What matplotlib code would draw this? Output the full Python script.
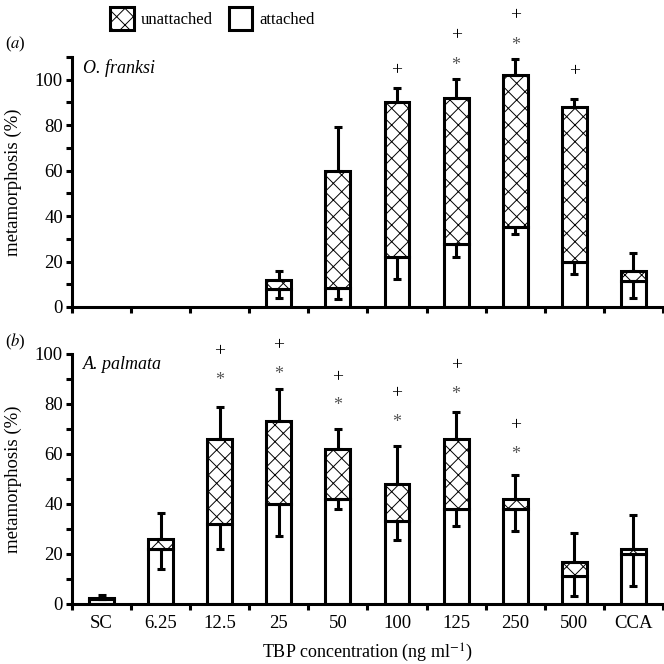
import numpy as np
import matplotlib
matplotlib.use("Agg")
import matplotlib.pyplot as plt
from matplotlib.patches import Patch

plt.rcParams['font.family'] = ['Liberation Serif', 'DejaVu Serif']
plt.rcParams['hatch.linewidth'] = 0.7
plt.rcParams['mathtext.fontset'] = 'stix'

nan = np.nan
categories = ["SC", "6.25", "12.5", "25", "50", "100", "125", "250", "500", "CCA"]

# panel (a) O. franksi
a_attached = [nan, nan, nan, 7.8, 8.2, 21.9, 27.8, 35.4, 20.0, 11.6]
a_total = [nan, nan, nan, 12.0, 60.0, 90.0, 92.0, 102.0, 88.0, 16.0]
a_err_up = [nan, nan, nan, 4.0, 19.4, 6.3, 8.4, 7.0, 3.6, 7.6]
a_err_low = [nan, nan, nan, 3.8, 4.8, 9.8, 6.0, 3.4, 5.5, 7.5]
a_plus = [nan, nan, nan, nan, nan, 104.0, 119.4, 128.0, 103.5, nan]
a_star = [nan, nan, nan, nan, nan, nan, 106.2, 115.0, nan, nan]

# panel (b) A. palmata
b_attached = [2.0, 22.0, 32.0, 40.0, 42.0, 33.3, 38.0, 38.0, 11.3, 20.0]
b_total = [2.3, 26.0, 66.0, 73.3, 62.0, 48.0, 66.0, 42.0, 16.7, 22.0]
b_err_up = [1.3, 10.5, 12.7, 12.6, 7.9, 15.0, 10.6, 9.6, 11.6, 13.6]
b_err_low = [0.0, 8.0, 10.0, 12.7, 4.0, 7.7, 7.0, 9.0, 8.1, 12.7]
b_plus = [nan, nan, 100.8, 103.2, 90.7, 84.3, 95.2, 71.3, nan, nan]
b_star = [nan, nan, 89.2, 91.6, 79.2, 72.5, 83.6, 59.6, nan, nan]

fig = plt.figure(figsize=(6.64, 6.64), dpi=100)
ax_a = fig.add_axes([0.1084, 0.5377, 0.89, 0.3765])
ax_b = fig.add_axes([0.1084, 0.0904, 0.89, 0.3765])

x = np.arange(len(categories))
width = 0.42
lw = 2.2


def draw_panel(ax, attached, total, err_up, err_low, plus, star, ymax, name, tag, labels):
    attached = np.array(attached)
    total = np.array(total)
    ok = ~np.isnan(total)
    xs = x[ok]
    att = attached[ok]
    tot = total[ok]
    ax.bar(xs, att, width, color="white", edgecolor="black", linewidth=lw, zorder=2)
    ax.bar(xs, tot - att, width, bottom=att, color="white", edgecolor="black",
           hatch="xx", linewidth=lw, zorder=2)
    up = np.array(err_up)[ok]
    low = np.array(err_low)[ok]
    ax.errorbar(xs, tot, yerr=[np.zeros_like(up), up], fmt="none", ecolor="black",
                elinewidth=lw, capsize=2.6, capthick=lw, zorder=3)
    ax.errorbar(xs, att, yerr=[low, np.zeros_like(low)], fmt="none", ecolor="black",
                elinewidth=lw, capsize=2.6, capthick=lw, zorder=3)
    for i in range(len(categories)):
        if not np.isnan(plus[i]):
            ax.text(x[i], plus[i], "+", ha="center", va="center", fontsize=14,
                    clip_on=False)
        if not np.isnan(star[i]):
            ax.text(x[i], star[i], "*", ha="center", va="center", fontsize=13,
                    color="#555555", clip_on=False)

    ax.set_xlim(-0.5, len(categories) - 0.5)
    ax.set_ylim(0, ymax)
    ax.spines["top"].set_visible(False)
    ax.spines["right"].set_visible(False)
    ax.spines["left"].set_linewidth(lw)
    ax.spines["bottom"].set_linewidth(lw)
    ax.set_yticks(np.arange(0, 101, 20))
    ax.set_yticks(np.arange(10, ymax + 1, 10), minor=True)
    ax.set_xticks(np.arange(-0.5, len(categories), 1.0))
    ax.set_xticklabels([])
    ax.set_xticks(x, minor=True)
    if labels:
        ax.set_xticklabels(categories, minor=True, fontsize=13.5)
    ax.tick_params(axis="x", which="major", direction="out", length=4.5, width=lw)
    ax.tick_params(axis="x", which="minor", length=0, pad=8)
    ax.tick_params(axis="y", which="both", direction="out", length=4.5, width=lw,
                   labelsize=13.5, pad=2)
    ax.set_ylabel("metamorphosis (%)", fontsize=13.5, labelpad=9)
    ax.text(0.018, 0.99, name, transform=ax.transAxes, style="italic",
            fontsize=13, ha="left", va="top")
    ax.text(-0.114, 1.05, tag, transform=ax.transAxes,
            fontsize=12, ha="left", va="center")


draw_panel(ax_a, a_attached, a_total, a_err_up, a_err_low, a_plus, a_star, 110,
           "O. franksi", r"($\mathit{a}$)", False)
draw_panel(ax_b, b_attached, b_total, b_err_up, b_err_low, b_plus, b_star, 100,
           "A. palmata", r"($\mathit{b}$)", True)
ax_b.set_xlabel("TBP concentration (ng ml$^{-1}$)", fontsize=13, labelpad=7)

handles = [Patch(facecolor="white", edgecolor="black", hatch="xx", linewidth=lw),
           Patch(facecolor="white", edgecolor="black", linewidth=lw)]
fig.legend(handles, ["unattached", "attached"], loc="upper center",
           bbox_to_anchor=(0.32, 1.012), ncol=2, frameon=False, fontsize=12,
           handlelength=1.4, handleheight=1.7, handletextpad=0.4, columnspacing=1.0)

fig.savefig("out.png", dpi=100)
